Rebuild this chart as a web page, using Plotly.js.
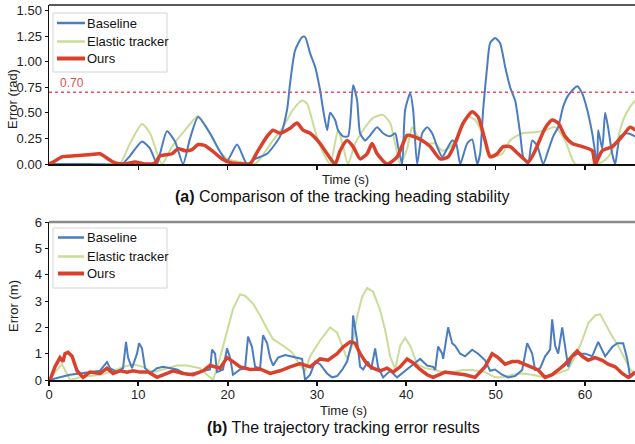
<!DOCTYPE html>
<html>
<head>
<meta charset="utf-8">
<script src="https://cdn.plot.ly/plotly-3.0.1.min.js"></script>
<style>html,body{margin:0;padding:0;background:#fff;}#chart{width:635px;height:444px;}</style>
</head>
<body>
<div id="chart"></div>
<script>
// ---------- (a) heading error, rad ----------
const headTimeBase = [0,4.59,8.17,9.07,10.41,11.31,12.09,12.43,13.21,14.11,
15.01,15.79,16.69,18.03,19.15,19.93,21.05,22.17,23.07,24.41,
25.87,26.65,26.99,27.55,28.33,28.67,29.23,29.79,30.35,30.69,
31.14,31.47,32.03,32.36,32.92,33.48,34.04,34.49,34.83,35.39,
35.95,36.73,37.40,38.19,38.75,39.08,39.53,39.87,40.43,40.76,
41.21,41.77,42.33,42.89,43.45,44.01,44.57,45.13,45.58,46.03,
46.81,47.37,47.93,48.26,48.60,49.05,49.38,49.94,50.50,51.06,
51.62,52.18,52.74,53.08,53.64,54.09,54.65,55.32,55.88,56.44,
57.00,57.56,58.12,59.13,59.69,60.25,60.81,61.37,61.48,61.93,
62.26,62.60,63.05,63.38,63.94,64.73,65.62];
const headBaseline = [0,0,0,0.08,0.22,0.15,0,0.1,0.32,0.22,
0,0.25,0.46,0.3,0.12,0.03,0.19,0,0.05,0.1,
0.27,0.53,0.79,1.11,1.24,1.24,1.08,0.95,0.72,0.53,
0.33,0.5,0.43,0.33,0.27,0.27,0.77,0.62,0.3,0.23,
0.28,0.36,0.3,0.27,0.3,0.17,0,0.53,0.69,0.53,
0,0.3,0.36,0.3,0.17,0.07,0.15,0.23,0.2,0,
0.2,0.24,0,0.1,0.53,0.95,1.18,1.23,1.18,0.95,
0.75,0.62,0.3,0.07,0,0.23,0.18,0,0.13,0.27,
0.36,0.56,0.67,0.76,0.69,0.53,0.3,0,0.33,0.15,
0.5,0.35,0.1,0,0.27,0.3,0.27];

const headTimeElastic = [0,7.39,7.95,9.07,10.41,11.31,12.65,13.77,15.23,16.69,
17.81,18.92,19.93,21.39,23.07,23.63,25.08,26.20,27.32,28.33,
28.89,29.45,30.12,30.91,31.47,32.36,32.92,33.48,34.27,35.16,
36.28,37.40,38.19,38.75,39.31,40.09,40.65,41.21,42.33,43.23,
44.01,44.68,45.46,46.25,46.92,47.70,48.49,49.16,49.72,50.73,
51.62,52.97,54.42,55.54,56.66,57.78,58.34,58.90,61.14,61.93,
62.60,63.61,64.28,65.06,65.62];
const headElastic = [0,0,0,0.2,0.39,0.3,0,0.17,0.33,0.47,
0.33,0.15,0.05,0.02,0,0.05,0.23,0.36,0.53,0.62,
0.59,0.43,0.23,0.07,0,0.33,0.17,0,0.2,0.33,
0.45,0.48,0.4,0.2,0,0.15,0.36,0.28,0.2,0.2,
0.13,0.15,0.23,0.36,0.46,0.43,0.3,0.13,0.07,0.1,
0.23,0.3,0.31,0.33,0.36,0.23,0.1,0,0,0.02,
0.07,0.23,0.43,0.56,0.62];

const headTimeOurs = [0,0.67,1.46,2.91,4.37,5.71,6.27,7.39,8.51,9.63,
10.75,11.87,12.43,13.77,14.45,15.23,16.01,16.69,17.47,18.25,
19.37,20.49,21.95,22.51,23.40,24.41,25.08,25.87,26.99,27.77,
28.44,29.23,30.35,31.13,32.03,32.59,33.37,34.04,34.83,35.61,
36.17,36.73,37.85,38.97,40.09,40.76,41.77,42.67,43.78,44.68,
45.46,46.36,47.37,48.04,48.82,49.38,50.17,50.84,51.62,52.52,
53.64,54.42,55.54,56.33,57.00,57.78,58.57,59.69,60.81,61.14,
61.93,63.05,64.17,65.06,65.62];
const headOurs = [0,0.03,0.07,0.08,0.09,0.1,0.07,0.01,0,0.02,
0,0.01,0.08,0.1,0.15,0.13,0.14,0.19,0.18,0.13,
0.05,0.01,0,0,0.13,0.27,0.33,0.3,0.35,0.4,
0.33,0.3,0.2,0.1,0,0.13,0.23,0.17,0.05,0.1,
0.2,0.1,0,0.07,0.28,0.27,0.23,0.17,0.05,0.07,
0.2,0.4,0.51,0.46,0.23,0.07,0.1,0.17,0.17,0.1,
0.02,0.13,0.35,0.43,0.4,0.27,0.2,0.17,0.13,0,
0.13,0.17,0.27,0.36,0.33];

const headThreshold = 0.70;

// ---------- (b) trajectory error, m ----------
const trajTimeBase = [0,1.23,2.35,3.47,4.59,5.71,6.05,6.49,6.83,7.61,
8.29,8.62,8.85,9.29,9.85,10.08,10.41,10.75,11.31,12.09,
12.77,13.55,14.33,15.45,16.91,18.03,18.25,18.59,18.81,19.48,
19.93,20.27,20.60,21.39,21.95,22.28,22.73,23.07,23.63,23.96,
24.41,24.75,25.08,25.64,26.43,26.99,27.77,28.33,28.67,29.23,
29.79,30.35,31.13,31.69,32.25,32.81,33.37,33.93,34.04,34.49,
34.83,35.16,35.72,36.06,36.51,36.84,37.40,38.19,38.97,39.64,
40.43,41.55,42.33,43.00,43.23,43.56,44.01,44.12,44.68,45.13,
45.46,46.03,46.58,47.37,48.04,48.82,49.38,49.94,50.73,51.40,
52.18,52.97,53.53,54.09,54.42,54.98,55.54,56.10,56.33,56.66,
57.00,57.45,57.78,58.12,58.57,59.24,60.02,60.81,61.48,62.26,
63.05,63.61,64.28,64.73,65.06,65.62];
const trajBaseline = [0,0.1,0.2,0.25,0.3,0.35,0.5,0.68,0.45,0.3,
0.45,1.45,0.85,0.45,1.0,1.4,1.2,0.45,0.25,0.45,
0.5,0.45,0.4,0.2,0.3,0.4,1.15,1.0,0.3,0.4,
1.2,0.85,0.2,0.4,0.45,1.65,1.25,0.5,0.45,1.7,
1.4,0.85,0.55,0.85,0.95,0.9,0.85,0.8,0,0.2,
0.7,0.6,0.25,0.1,0.15,0.38,0.7,1.45,2.45,1.5,
0.5,0.4,0.7,0.4,1.2,0.5,0.1,0.35,0.1,0.3,
0.5,0.8,0.55,0.5,0.38,1.27,1.0,0.8,2.0,1.4,
1.3,1.0,0.9,1.15,1.0,0.75,0.35,0.4,0.2,0.1,
0.15,0.38,1.4,1.0,0.38,0.45,0.9,1.15,2.3,1.3,
1.0,2.0,1.3,0.5,0.9,1.0,1.0,0.9,1.45,0.9,
1.25,1.4,1.4,0.8,0.1,0.25];

const trajTimeElastic = [0,0.67,1.46,2.35,3.47,4.59,5.71,6.83,8.29,9.41,
10.53,11.65,13.21,14.33,15.45,16.91,17.69,18.37,19.15,19.93,
20.60,21.39,21.95,22.84,23.63,24.41,25.08,26.20,27.21,28.11,
28.67,29.23,30.35,31.47,32.25,32.81,33.37,33.93,34.49,35.05,
35.61,36.28,37.07,37.63,38.19,38.75,39.31,39.87,40.43,41.21,
42.11,43.00,44.68,46.25,47.37,48.82,49.94,50.73,51.85,52.97,
54.09,55.54,57.00,58.12,58.90,59.69,60.36,61.14,61.70,62.26,
63.05,63.72,64.50,65.06,65.62];
const trajElastic = [0,0.3,0.6,0,0.1,0.15,0.2,0.3,0.5,0.6,
0.5,0.3,0.45,0.55,0.55,0.45,0.2,0,0.85,1.8,
2.7,3.25,3.2,2.9,2.45,1.95,1.55,1.3,1.05,0.55,
0.35,0.9,1.5,2.0,1.8,1.3,0.8,1.3,2.4,3.15,
3.5,3.35,2.65,1.9,0.9,0.4,1.3,1.6,1.3,0.6,
0.45,0.4,0.25,0.38,0.38,0.3,0.1,0.1,0.2,0.25,
0.2,0.1,0.25,0.4,0.9,1.5,2.15,2.45,2.5,2.15,
1.65,1.3,0.8,0.4,0.25];

const trajTimeOurs = [0,0.11,0.67,1.23,1.57,1.79,2.13,2.58,3.14,3.81,
4.59,5.71,6.49,7.17,7.95,8.73,9.41,10.19,11.09,12.09,
13.21,13.89,15.01,16.13,17.25,18.03,19.15,19.93,20.60,21.39,
22.51,23.63,24.75,25.87,26.99,28.11,29.23,30.35,31.24,32.25,
32.92,33.71,34.27,34.83,35.61,36.28,37.07,37.85,38.52,39.31,
40.09,40.76,41.55,42.33,43.00,43.78,44.34,45.46,46.58,47.70,
48.82,49.61,50.28,51.06,51.85,52.52,53.30,54.09,54.76,55.54,
56.33,57.00,57.78,58.57,59.13,59.69,60.36,61.14,61.93,62.60,
63.38,64.17,64.84,65.62];
const trajOurs = [0,0,0.5,0.85,0.7,1.0,1.05,0.9,0.35,0.1,
0.3,0.25,0.45,0.25,0.35,0.3,0.35,0.3,0.3,0.1,
0.25,0.35,0.25,0.2,0.35,0.55,0.45,0.85,0.7,0.5,
0.4,0.42,0.25,0.35,0.5,0.62,0.5,0.8,0.75,1.0,
1.25,1.45,1.4,1.0,0.6,0.45,0.35,0.45,0.3,0.5,
0.8,0.65,0.4,0.2,0.1,0.2,0.3,0.25,0.2,0.1,
0.5,1.0,0.85,0.6,0.7,0.7,0.6,0.5,0.38,0.1,
0.2,0.38,0.6,0.9,1.1,0.9,0.75,0.85,0.75,0.6,
0.5,0.25,0.1,0.3];

const seriesNames = ["Baseline", "Elastic tracker", "Ours"];
const xTickVals = [0,10,20,30,40,50,60];
const headTickVals = [0,0.25,0.5,0.75,1.0,1.25,1.5];
const trajTickVals = [0,1,2,3,4,5,6];

const COLORS = ["#4a7cc2", "#c9dd98", "#d9412c"];
const WIDTHS = [2, 2, 3.5];
const FONT = "Arial, 'Liberation Sans', sans-serif";

// pixel helpers for decoration placement (figure 635x444, margins l49 r0 t5 b64)
const ML = 49, PW = 586, MT = 5, PH = 375;
const px2x = p => (p - ML) / PW;
const px2y = p => 1 - (p - MT) / PH;

function tr(x, y, i, xa, ya, shape) {
  return {x: x, y: y, name: seriesNames[i], type: "scatter", mode: "lines",
    line: {color: COLORS[i], width: WIDTHS[i], shape: shape, smoothing: 0.6},
    xaxis: xa, yaxis: ya, showlegend: false, cliponaxis: true};
}

const data = [
  tr(headTimeElastic, headElastic, 1, "x", "y", "spline"),
  tr(headTimeBase, headBaseline, 0, "x", "y", "spline"),
  tr(headTimeOurs, headOurs, 2, "x", "y", "spline"),
  tr(trajTimeElastic, trajElastic, 1, "x2", "y2", "linear"),
  tr(trajTimeBase, trajBaseline, 0, "x2", "y2", "linear"),
  tr(trajTimeOurs, trajOurs, 2, "x2", "y2", "linear")
];

const tickFont = {family: FONT, size: 13, color: "#222"};
const axBase = {showgrid: false, zeroline: false, showline: true, linecolor: "#111",
  ticks: "outside", tickcolor: "#111", tickfont: tickFont, fixedrange: true};

const shapes = [
  {type: "line", xref: "x domain", yref: "y domain", x0: 0, x1: 1, y0: 1, y1: 1,
    line: {color: "#222", width: 1.5}},
  {type: "line", xref: "x2 domain", yref: "y2 domain", x0: 0, x1: 1, y0: 1, y1: 1,
    line: {color: "#8a8a8a", width: 2.5}},
  {type: "line", xref: "x domain", yref: "y", x0: 0, x1: 1, y0: headThreshold, y1: headThreshold,
    line: {color: "#e0506a", width: 1.5, dash: "dot"}}
];
const annotations = [
  {xref: "x domain", yref: "y", x: 0.016, y: headThreshold, yshift: 9, xanchor: "left", yanchor: "middle",
    text: headThreshold.toFixed(2), showarrow: false, font: {family: FONT, size: 12, color: "#d9534f"}},
  {xref: "paper", yref: "paper", x: px2x(13), y: px2y(99), textangle: -90, showarrow: false,
    xanchor: "center", yanchor: "middle", text: "Error (rad)", font: {family: FONT, size: 13, color: "#222"}},
  {xref: "paper", yref: "paper", x: px2x(13), y: px2y(306), textangle: -90, showarrow: false,
    xanchor: "center", yanchor: "middle", text: "Error (m)", font: {family: FONT, size: 13, color: "#222"}},
  {xref: "paper", yref: "paper", x: px2x(345), y: px2y(179), showarrow: false,
    xanchor: "center", yanchor: "middle", text: "Time (s)", font: {family: FONT, size: 13, color: "#222"}},
  {xref: "paper", yref: "paper", x: px2x(343), y: px2y(410), showarrow: false,
    xanchor: "center", yanchor: "middle", text: "Time (s)", font: {family: FONT, size: 13, color: "#222"}},
  {xref: "paper", yref: "paper", x: px2x(342), y: px2y(196), showarrow: false,
    xanchor: "center", yanchor: "middle",
    text: "<b>(a)</b> Comparison of the tracking heading stability", font: {family: FONT, size: 16, color: "#111"}},
  {xref: "paper", yref: "paper", x: px2x(343), y: px2y(428), showarrow: false,
    xanchor: "center", yanchor: "middle",
    text: "<b>(b)</b> The trajectory tracking error results", font: {family: FONT, size: 16, color: "#111"}}
];

// hand-placed legends (box, line samples, labels) to match the reference
function addLegend(box, rows, lineX0, lineX1, textX) {
  shapes.push({type: "rect", xref: "paper", yref: "paper",
    x0: px2x(box[0]), x1: px2x(box[1]), y0: px2y(box[3]), y1: px2y(box[2]),
    line: {color: "#d4d4d4", width: 1}, fillcolor: "rgba(255,255,255,0.95)", layer: "above"});
  rows.forEach((py, i) => {
    shapes.push({type: "line", xref: "paper", yref: "paper",
      x0: px2x(lineX0), x1: px2x(lineX1), y0: px2y(py), y1: px2y(py),
      line: {color: COLORS[i], width: i === 2 ? 4 : 2.5}, layer: "above"});
    annotations.push({xref: "paper", yref: "paper", x: px2x(textX), y: px2y(py),
      xanchor: "left", yanchor: "middle", showarrow: false, text: seriesNames[i],
      font: {family: FONT, size: 13, color: "#111"}});
  });
}
addLegend([53, 167, 13, 72], [23, 41.5, 58.5], 57, 85, 85);
addLegend([53, 167, 228, 288], [237.5, 256.5, 273.5], 58, 84, 85);

const layout = {
  width: 635, height: 444,
  margin: {l: ML, r: 0, t: MT, b: 64},
  paper_bgcolor: "#fff", plot_bgcolor: "#fff",
  font: {family: FONT, size: 13, color: "#222"},
  showlegend: false,
  xaxis: Object.assign({}, axBase, {domain: [0, 1], anchor: "y", range: [0, 65.6],
    tickvals: xTickVals.slice(1), showticklabels: false, ticklen: 4, tickwidth: 1.5, linewidth: 1.5}),
  yaxis: Object.assign({}, axBase, {domain: [px2y(164), 1], anchor: "x", range: [0, 1.553],
    tickvals: headTickVals, tickformat: ".2f", ticklen: 3, tickwidth: 1, linewidth: 1.5}),
  xaxis2: Object.assign({}, axBase, {domain: [0, 1], anchor: "y2", range: [0, 65.6],
    tickvals: xTickVals, ticklen: 4, tickwidth: 2, linewidth: 2, ticklabelstandoff: -3}),
  yaxis2: Object.assign({}, axBase, {domain: [0, px2y(222)], anchor: "x2", range: [0, 6],
    tickvals: trajTickVals, ticklen: 3, tickwidth: 1, linewidth: 1.5}),
  shapes: shapes,
  annotations: annotations
};

Plotly.newPlot("chart", data, layout, {displayModeBar: false, staticPlot: true});
</script>
</body>
</html>
